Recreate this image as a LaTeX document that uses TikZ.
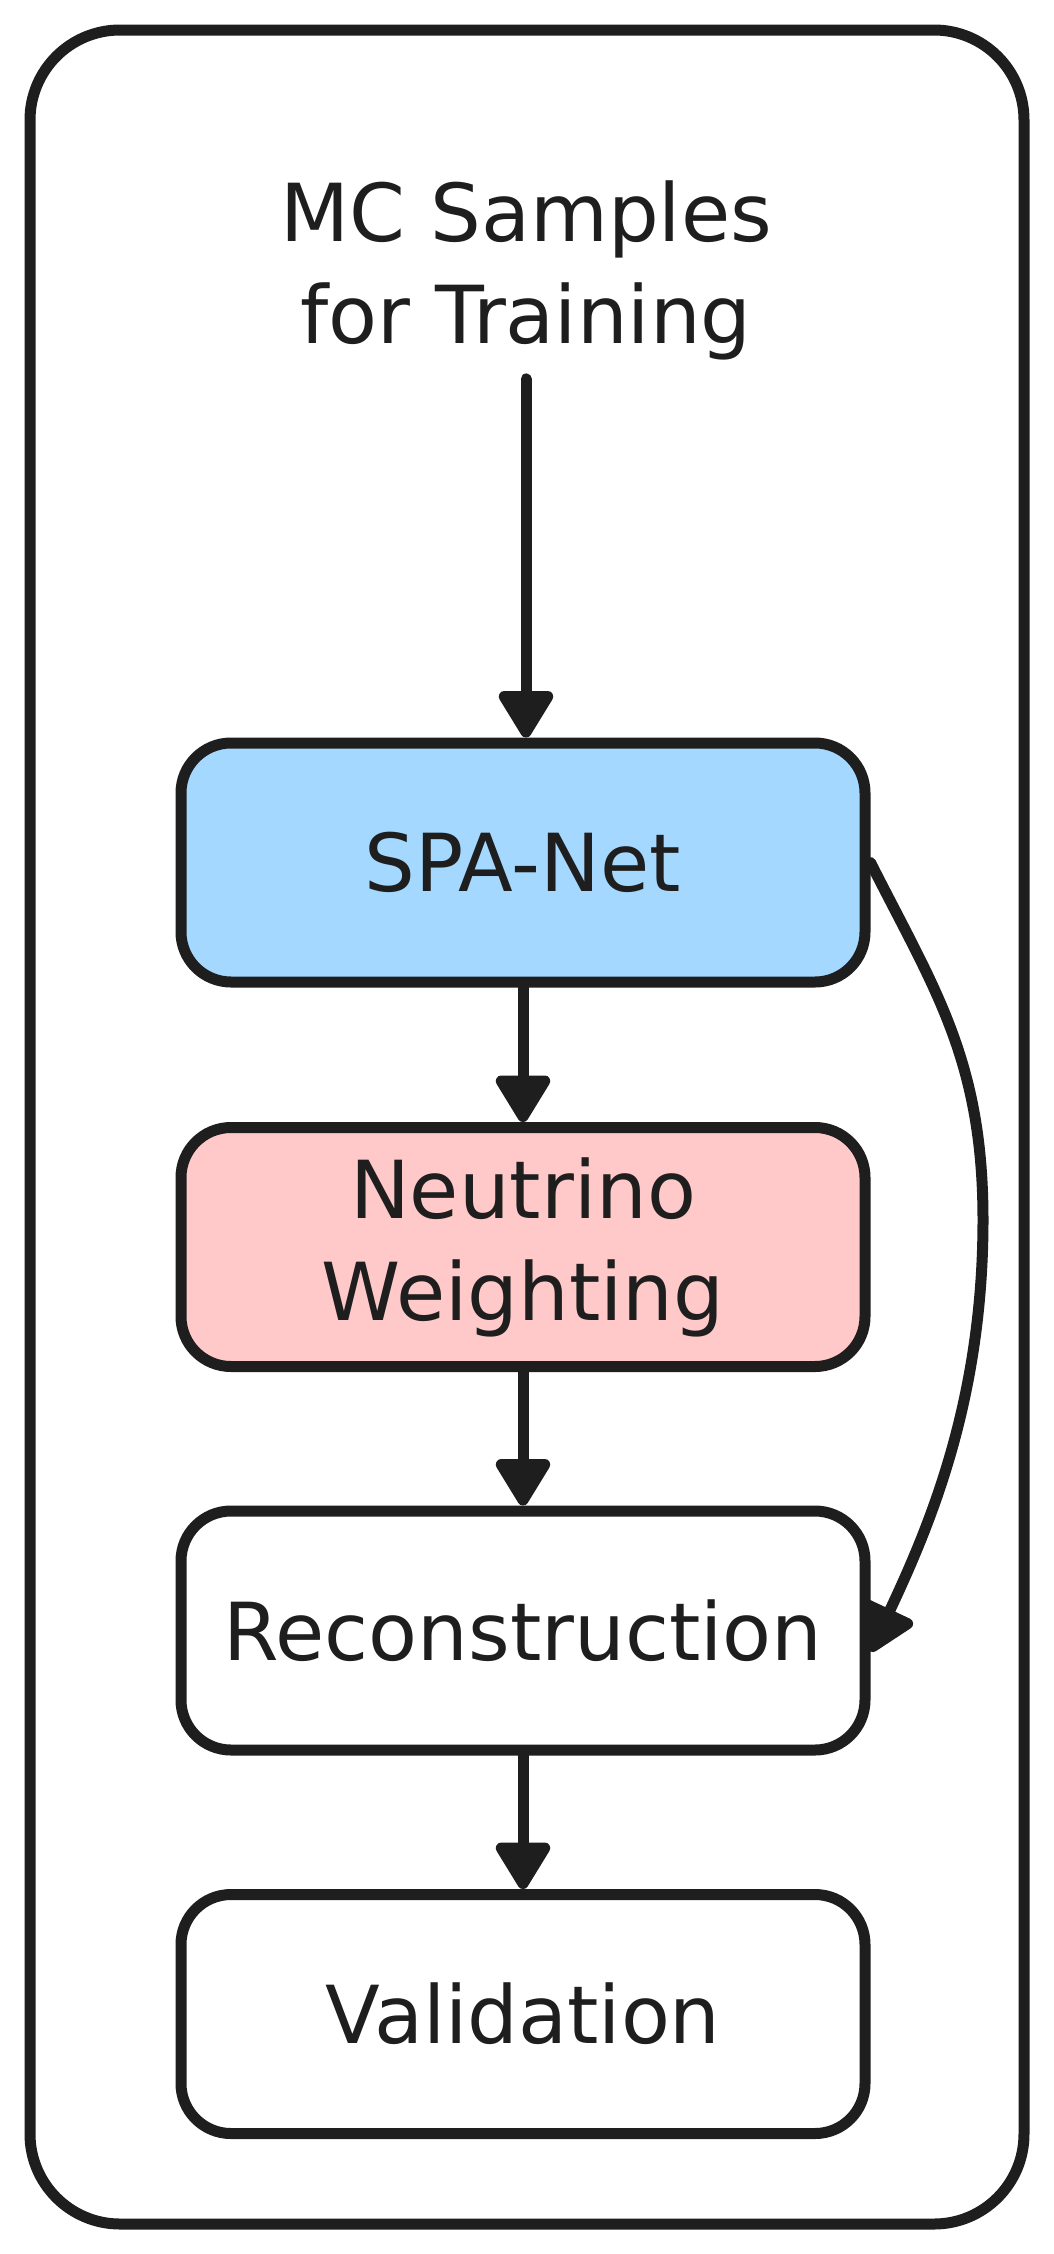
\documentclass[tikz,border=0pt]{standalone}
\usepackage{fontspec}
\setmainfont{DejaVu Sans}
\usetikzlibrary{arrows.meta}
\definecolor{ink}{HTML}{1E1E1E}
\definecolor{spablue}{HTML}{A5D8FF}
\definecolor{nwpink}{HTML}{FFC9C9}
\begin{document}
\begin{tikzpicture}[x=1pt,y=-1pt,
  handfont/.style={font=\fontsize{80}{102}\selectfont, text=ink},
  stage/.style={draw=ink, line width=11pt, rounded corners=50pt,
    minimum width=684pt, minimum height=239pt, inner sep=0pt,
    align=center, handfont},
  flow/.style={draw=ink, line width=11pt, line cap=round,
    -{Triangle[length=52pt,width=60pt,round]}},
]
\useasboundingbox (0,0) rectangle (1054,2254);
\fill[white] (0,0) rectangle (1054,2254);
\draw[ink, line width=11pt, rounded corners=90pt] (30,30) rectangle (1024,2224);

\node[handfont, align=center, inner sep=0pt] (title) at (526,270) {MC Samples\\for Training};
\node[stage, fill=spablue] (spa) at (523,862.5) {SPA-Net};
\node[stage, fill=nwpink] (nw) at (523,1247) {Neutrino\\Weighting};
\node[stage, fill=white] (rec) at (523,1630.5) {Reconstruction};
\node[stage, fill=white] (val) at (523,2014) {Validation};

\draw[flow] ([yshift=-19pt]title.south) -- (title.south |- spa.north);
\draw[flow] (spa) -- (nw);
\draw[flow] (nw) -- (rec);
\draw[flow] (rec) -- (val);
\draw[flow] (spa.east) .. controls (935,990) and (983,1060) .. (983,1220)
  .. controls (983,1400) and (930,1525) .. ([yshift=-21pt]rec.east);
\end{tikzpicture}
\end{document}
